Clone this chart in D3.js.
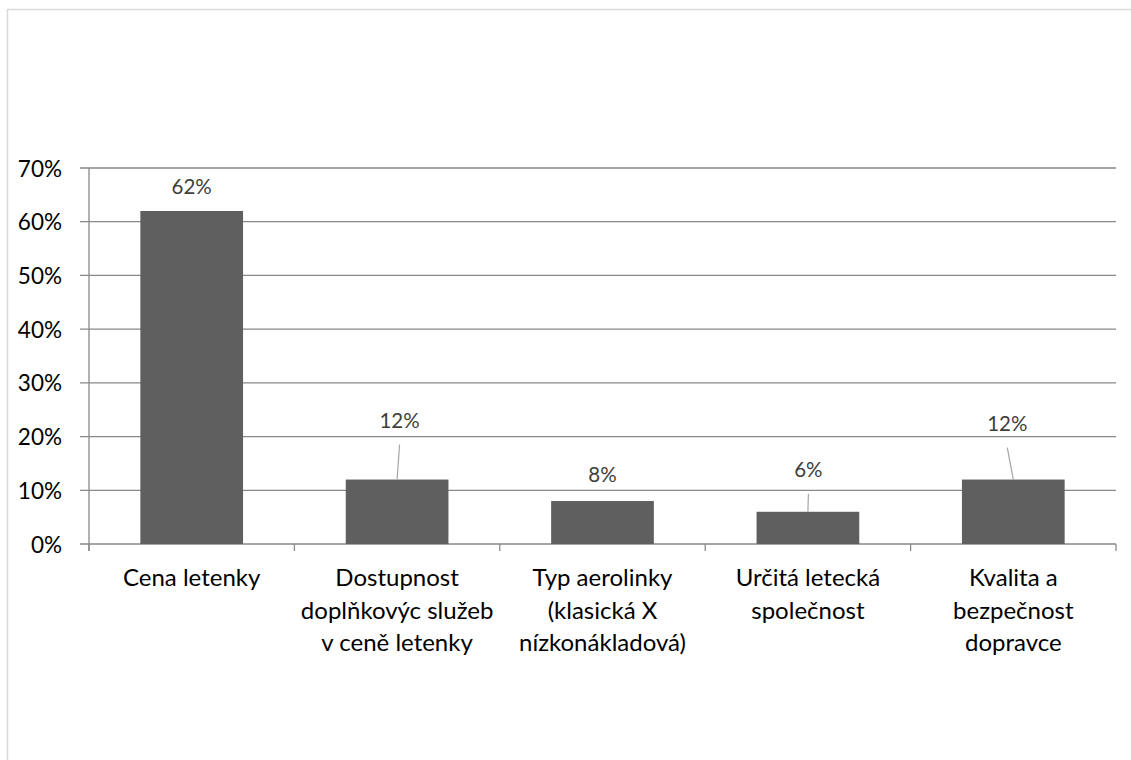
<!DOCTYPE html>
<html>
<head>
<meta charset="utf-8">
<script src="https://cdn.jsdelivr.net/npm/d3@7"></script>
<style>
  html, body { margin: 0; padding: 0; background: #fff; }
  svg { display: block; font-family: Lato, "Open Sans", sans-serif; }
</style>
</head>
<body>
<svg id="chart" width="1131" height="760"></svg>
<script>
// ---- data ----
const categories = [
  ["Cena letenky"],
  ["Dostupnost", "doplňkovýc služeb", "v ceně letenky"],
  ["Typ aerolinky", "(klasická X", "nízkonákladová)"],
  ["Určitá letecká", "společnost"],
  ["Kvalita a", "bezpečnost", "dopravce"]
];
const values = [0.62, 0.12, 0.08, 0.06, 0.12];
const yTicks = [0, 0.1, 0.2, 0.3, 0.4, 0.5, 0.6, 0.7];

// label placement (offset of label centre from bar top centre), layout only
const labelDx = [0, 2.5, 0, 0.5, -6];
const labelDy = [-25, -60, -27, -43, -57];
const leader = [false, true, false, true, true];

// ---- layout ----
const svg = d3.select("#chart");
const plotLeft = 89, plotRight = 1116, plotTop = 168, plotBottom = 544;

// outer chart border (partially cropped)
svg.append("path")
  .attr("d", "M7.5,760 L7.5,9.5 L1131,9.5")
  .attr("fill", "none").attr("stroke", "#d9d9d9").attr("stroke-width", 1.5);

const x = d3.scaleBand().domain(d3.range(categories.length))
  .range([plotLeft, plotRight]).paddingInner(0.5).paddingOuter(0.25);
const y = d3.scaleLinear().domain([0, 0.7]).range([plotBottom, plotTop]);

// gridlines
svg.append("g").selectAll("line").data(yTicks).join("line")
  .attr("x1", plotLeft - 9).attr("x2", plotRight)
  .attr("y1", d => y(d)).attr("y2", d => y(d))
  .attr("stroke", "#898989").attr("stroke-width", 1.3);

// y axis line
svg.append("line").attr("x1", plotLeft).attr("x2", plotLeft)
  .attr("y1", plotTop).attr("y2", plotBottom + 7)
  .attr("stroke", "#898989").attr("stroke-width", 1.3);

// x tick marks at category boundaries
const step = x.step();
const bounds = d3.range(categories.length + 1).map(i => plotLeft + i * step);
svg.append("g").selectAll("line").data(bounds).join("line")
  .attr("x1", d => d).attr("x2", d => d)
  .attr("y1", plotBottom).attr("y2", plotBottom + 7)
  .attr("stroke", "#898989").attr("stroke-width", 1.3);

// y labels
svg.append("g").selectAll("text").data(yTicks).join("text")
  .attr("x", 62).attr("y", d => y(d))
  .attr("text-anchor", "end").attr("dominant-baseline", "central")
  .attr("font-size", 22.5).attr("fill", "#000")
  .text(d => d3.format(".0%")(d));

// bars
svg.append("g").selectAll("rect").data(values).join("rect")
  .attr("x", (d, i) => x(i)).attr("width", x.bandwidth())
  .attr("y", d => y(d)).attr("height", d => y(0) - y(d))
  .attr("fill", "#5f5f5f");

// leader lines
svg.append("g").selectAll("line").data(values.map((v, i) => ({v, i})).filter(d => leader[d.i])).join("line")
  .attr("x1", d => x(d.i) + x.bandwidth() / 2 + labelDx[d.i])
  .attr("y1", d => y(d.v) + labelDy[d.i] + 25)
  .attr("x2", d => x(d.i) + x.bandwidth() / 2)
  .attr("y2", d => y(d.v))
  .attr("stroke", "#a6a6a6").attr("stroke-width", 1.2);

// data labels
svg.append("g").selectAll("text").data(values).join("text")
  .attr("x", (d, i) => x(i) + x.bandwidth() / 2 + labelDx[i])
  .attr("y", (d, i) => y(d) + labelDy[i])
  .attr("text-anchor", "middle").attr("dominant-baseline", "central")
  .attr("font-size", 20.5).attr("fill", "#404040")
  .text(d => d3.format(".0%")(d));

// x labels
const xl = svg.append("g").selectAll("text").data(categories).join("text")
  .attr("text-anchor", "middle").attr("font-size", 24).attr("fill", "#000")
  .attr("x", (d, i) => x(i) + x.bandwidth() / 2);
xl.selectAll("tspan").data(d => d).join("tspan")
  .attr("x", function() { return d3.select(this.parentNode).attr("x"); })
  .attr("y", (d, j) => 586 + j * 32.5)
  .text(d => d);
</script>
</body>
</html>
